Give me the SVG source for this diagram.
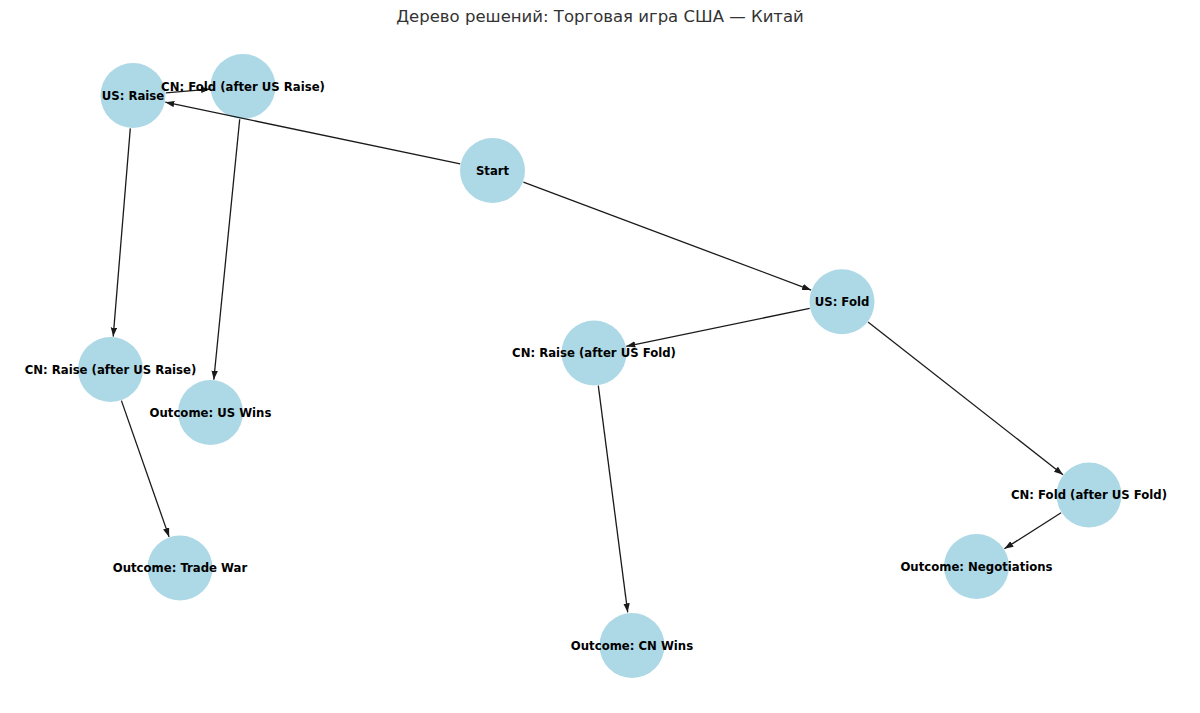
<svg xmlns="http://www.w3.org/2000/svg" width="1200" height="713" viewBox="0 0 1200 713">
  <style>
    .node circle { fill: #ADD8E6; }
    .node text { font-family: "DejaVu Sans", "Liberation Sans", sans-serif; font-size: 11.7px; font-weight: bold; fill: #000; text-anchor: middle; }
    .edges line { stroke: #1a1a1a; stroke-width: 1.3; marker-end: url(#arrow); }
    .title { font-family: "DejaVu Sans", "Liberation Sans", sans-serif; font-size: 16.5px; fill: #333; text-anchor: middle; }
  </style>
  <defs>
    <marker id="arrow" markerUnits="userSpaceOnUse" markerWidth="10" markerHeight="8" refX="9" refY="3.2" orient="auto">
      <path d="M0,0 L9,3.2 L0,6.4 z" fill="#1a1a1a"/>
    </marker>
  </defs>
  <rect width="1200" height="713" fill="#fff"/>
  <text class="title" x="600" y="22">Дерево решений: Торговая игра США — Китай</text>

  <g id="nodes-circles">
    <g id="n-start" class="node"><circle cx="492.5" cy="170.5" r="32.5"/></g>
    <g id="n-us-raise" class="node"><circle cx="133" cy="95.5" r="32.5"/></g>
    <g id="n-cn-fold-r" class="node"><circle cx="243" cy="86.5" r="32.5"/></g>
    <g id="n-us-fold" class="node"><circle cx="842" cy="301.7" r="32.5"/></g>
    <g id="n-cn-raise-f" class="node"><circle cx="594" cy="353" r="32.5"/></g>
    <g id="n-cn-raise-r" class="node"><circle cx="110.5" cy="369.5" r="32.5"/></g>
    <g id="n-us-wins" class="node"><circle cx="210.5" cy="412.5" r="32.5"/></g>
    <g id="n-trade-war" class="node"><circle cx="180" cy="568" r="32.5"/></g>
    <g id="n-cn-wins" class="node"><circle cx="632" cy="645.5" r="32.5"/></g>
    <g id="n-cn-fold-f" class="node"><circle cx="1089" cy="495" r="32.5"/></g>
    <g id="n-negotiations" class="node"><circle cx="976.5" cy="566.5" r="32.5"/></g>
  </g>

  <g id="edges" class="edges">
    <line x1="460.2" y1="163.8" x2="165.3" y2="102.2"/>
    <line x1="523.4" y1="182.1" x2="811.1" y2="290.1"/>
    <line x1="165.9" y1="92.8" x2="210.1" y2="89.2"/>
    <line x1="130.3" y1="128.4" x2="113.2" y2="336.6"/>
    <line x1="239.7" y1="119.3" x2="213.8" y2="379.7"/>
    <line x1="121.4" y1="400.6" x2="169.1" y2="536.9"/>
    <line x1="809.7" y1="308.4" x2="626.3" y2="346.3"/>
    <line x1="598.3" y1="385.7" x2="627.7" y2="612.3"/>
    <line x1="868" y1="322" x2="1063" y2="474.7"/>
    <line x1="1061.1" y1="512.7" x2="1004.4" y2="548.8"/>
  </g>

  <g id="labels">
    <g id="l-start" class="node"><text x="492.5" y="174.7">Start</text></g>
    <g id="l-us-raise" class="node"><text x="133" y="99.7">US: Raise</text></g>
    <g id="l-cn-fold-r" class="node"><text x="243" y="90.7">CN: Fold (after US Raise)</text></g>
    <g id="l-us-fold" class="node"><text x="842" y="305.9">US: Fold</text></g>
    <g id="l-cn-raise-f" class="node"><text x="594" y="357.2">CN: Raise (after US Fold)</text></g>
    <g id="l-cn-raise-r" class="node"><text x="110.5" y="373.7">CN: Raise (after US Raise)</text></g>
    <g id="l-us-wins" class="node"><text x="210.5" y="416.7">Outcome: US Wins</text></g>
    <g id="l-trade-war" class="node"><text x="180" y="572.2">Outcome: Trade War</text></g>
    <g id="l-cn-wins" class="node"><text x="632" y="649.7">Outcome: CN Wins</text></g>
    <g id="l-cn-fold-f" class="node"><text x="1089" y="499.2">CN: Fold (after US Fold)</text></g>
    <g id="l-negotiations" class="node"><text x="976.5" y="570.7">Outcome: Negotiations</text></g>
  </g>
</svg>
